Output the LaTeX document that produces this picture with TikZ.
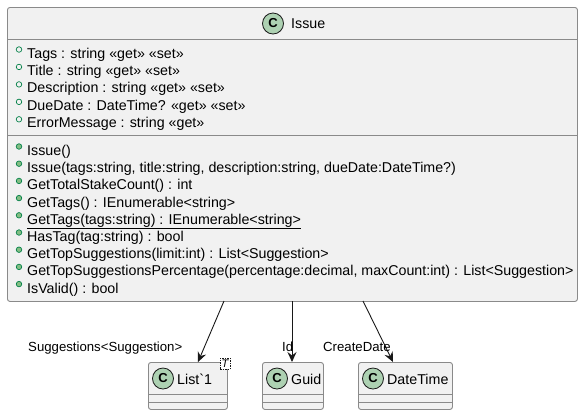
\documentclass[tikz,border=0pt]{standalone}
\usepackage{fontspec}
\setmainfont{Liberation Sans}
\newfontfamily\umlfont{Liberation Sans}
\usetikzlibrary{arrows.meta,calc}
\definecolor{classbg}{HTML}{F1F1F1}
\definecolor{classborder}{HTML}{8A8A8A}
\definecolor{circbg}{HTML}{ADD1B2}
\definecolor{fieldgreen}{HTML}{038048}
\definecolor{methodfill}{HTML}{84BE84}
\definecolor{arrowcol}{HTML}{181818}
\tikzset{
  classbox/.style={draw=classborder, fill=classbg, line width=0.9pt, rounded corners=2.5pt, inner sep=0pt},
  sepline/.style={draw=classborder, line width=0.9pt},
  member/.style={anchor=base west, inner sep=0pt, font=\umlfont\fontsize{14.25}{16}\selectfont},
  lbl/.style={anchor=base west, inner sep=0pt, font=\umlfont\fontsize{13.2}{15}\selectfont},
  cicon/.style={circle, draw=arrowcol, fill=circbg, line width=0.8pt, minimum size=21pt, inner sep=0pt, font=\umlfont\bfseries\fontsize{13}{13}\selectfont},
  fbullet/.style={circle, draw=fieldgreen, line width=0.7pt, minimum size=5.5pt, inner sep=0pt},
  mbullet/.style={circle, draw=fieldgreen, fill=methodfill, line width=0.7pt, minimum size=5.5pt, inner sep=0pt},
  assoc/.style={draw=arrowcol, line width=0.9pt, -{Stealth[length=10pt,width=9pt,inset=3.5pt]}},
  tparam/.style={draw=arrowcol, dash pattern=on 1.5pt off 1pt, line width=0.6pt, fill=white, minimum width=10pt, minimum height=11pt, inner sep=0pt, font=\umlfont\itshape\fontsize{11}{11}\selectfont}
}
\begin{document}
\begin{tikzpicture}[x=1pt,y=-1pt]
\useasboundingbox (0,0) rectangle (583,416);
% main class
\node[classbox, anchor=north west, minimum width=570pt, minimum height=294pt] (issue) at (7,7) {};
\draw[sepline] (7,39) -- (577,39);
\draw[sepline] (7,135) -- (577,135);
\node[cicon] (ci) at (273,23.5) {C};
\node[member] (title) at (291,28.5) {Issue};
% attributes
\foreach \t [count=\i from 0] in {Tags : string «get» «set», Title : string «get» «set», Description : string «get» «set», DueDate : DateTime? «get» «set», ErrorMessage : string «get»}{
  \node[fbullet] (fb\i) at (19,49.5+17.45*\i) {};
  \node[member] (fa\i) at (27,58+17.45*\i) {\t};
}
% methods
\foreach \i in {0,...,8}{
  \node[mbullet] (mb\i) at (19,146.5+17.2*\i) {};
}
\node[member] (m0) at (27,155.5) {Issue()};
\node[member] (m1) at (27,172.7) {Issue(tags:string, title:string, description:string, dueDate:DateTime?)};
\node[member] (m2) at (27,189.9) {GetTotalStakeCount() : int};
\node[member] (m3) at (27,207.1) {GetTags() : IEnumerable<string>};
\node[member] (m4) at (27,224.3) {\underline{GetTags(tags:string) : IEnumerable<string>}};
\node[member] (m5) at (27,241.5) {HasTag(tag:string) : bool};
\node[member] (m6) at (27,258.7) {GetTopSuggestions(limit:int) : List<Suggestion>};
\node[member] (m7) at (27,275.9) {GetTopSuggestionsPercentage(percentage:decimal, maxCount:int) : List<Suggestion>};
\node[member] (m8) at (27,293.1) {IsValid() : bool};
% small classes
\node[classbox, anchor=north west, minimum width=79pt, minimum height=47pt] (list) at (148,362) {};
\draw[sepline] (148,394) -- (227,394);
\draw[sepline] (148,402) -- (227,402);
\node[cicon] (cl) at (163,378.5) {C};
\node[member] (tl) at (177,384) {List`1};
\node[tparam] (tp) at (225,363.5) {T};
\node[classbox, anchor=north west, minimum width=61pt, minimum height=47pt] (guid) at (262,362) {};
\draw[sepline] (262,394) -- (323,394);
\draw[sepline] (262,402) -- (323,402);
\node[cicon] (cg) at (277,378.5) {C};
\node[member] (tg) at (291,384) {Guid};
\node[classbox, anchor=north west, minimum width=94pt, minimum height=47pt] (dt) at (358,362) {};
\draw[sepline] (358,394) -- (452,394);
\draw[sepline] (358,402) -- (452,402);
\node[cicon] (cd) at (373,378.5) {C};
\node[member] (td) at (387,384) {DateTime};
% connectors
\coordinate (s1) at (224,301);
\coordinate (e1) at (198,362);
\coordinate (s2) at (292,301);
\coordinate (e2) at (292,362);
\coordinate (s3) at (363,301);
\coordinate (e3) at (393,362);
\draw[assoc] (s1) -- (e1);
\draw[assoc] (s2) -- (e2);
\draw[assoc] (s3) -- (e3);
\node[lbl] (l1) at (28,351) {Suggestions<Suggestion>};
\node[lbl] (l2) at (282,351) {Id};
\node[lbl] (l3) at (323,351) {CreateDate};
\end{tikzpicture}
\end{document}
